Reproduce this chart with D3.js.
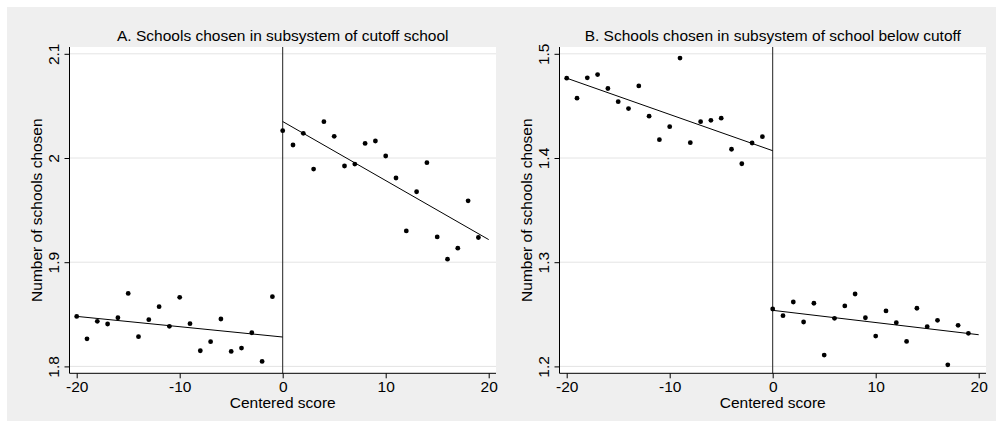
<!DOCTYPE html>
<html lang="en">
<head>
    <meta charset="UTF-8">
    <title>Schools chosen around cutoff</title>
    <script src="https://cdnjs.cloudflare.com/ajax/libs/d3/7.8.5/d3.min.js"></script>
    <style>
        body {
            margin: 0;
            background: #ffffff;
        }
        svg text {
            font-family: "Liberation Sans", Arial, sans-serif;
            fill: #000;
        }
    </style>
</head>
<body>
    <svg id="chart" width="997" height="430"></svg>

    <script>
        // Centered score bins (x values)
        const scores = [-20, -19, -18, -17, -16, -15, -14, -13, -12, -11,
                        -10, -9, -8, -7, -6, -5, -4, -3, -2, -1,
                        0, 1, 2, 3, 4, 5, 6, 7, 8, 9,
                        10, 11, 12, 13, 14, 15, 16, 17, 18, 19];

        // Panel A: schools chosen in subsystem of cutoff school
        const valuesA = [1.848, 1.8265, 1.8433, 1.8407, 1.8467, 1.870, 1.8285, 1.8448, 1.8573, 1.8385,
                         1.8663, 1.841, 1.815, 1.8237, 1.8455, 1.8144, 1.8176, 1.8323, 1.8048, 1.8669,
                         2.0262, 2.0125, 2.0237, 1.9894, 2.0349, 2.0208, 1.9923, 1.9942, 2.014, 2.0163,
                         2.0019, 1.9808, 1.930, 1.9676, 1.9955, 1.9243, 1.9029, 1.9135, 1.9589, 1.9237];

        // Panel B: schools chosen in subsystem of school below cutoff
        const valuesB = [1.4766, 1.4574, 1.4769, 1.4801, 1.4667, 1.4541, 1.4474, 1.4692, 1.4401, 1.4176,
                         1.4301, 1.4959, 1.4147, 1.4349, 1.4362, 1.4382, 1.4084, 1.3945, 1.4144, 1.4205,
                         1.2551, 1.2487, 1.2618, 1.2426, 1.2606, 1.2109, 1.2461, 1.258, 1.2695, 1.2467,
                         1.2291, 1.2532, 1.2419, 1.224, 1.2558, 1.2381, 1.2442, 1.2015, 1.2394, 1.2317];

        // Linear fits on each side of the cutoff (endpoints)
        const fitA = [
            [{x: -20, y: 1.848}, {x: 0, y: 1.8282}],
            [{x: 0, y: 2.035}, {x: 20, y: 1.9217}]
        ];
        const fitB = [
            [{x: -20, y: 1.4766}, {x: 0, y: 1.407}],
            [{x: 0, y: 1.2538}, {x: 20, y: 1.2304}]
        ];

        const xTicks = [-20, -10, 0, 10, 20];
        const yTicksA = [1.8, 1.9, 2, 2.1];
        const yTicksB = [1.2, 1.3, 1.4, 1.5];

        const titles = [
            "A. Schools chosen in subsystem of cutoff school",
            "B. Schools chosen in subsystem of school below cutoff"
        ];
        const xTitle = "Centered score";
        const yTitle = "Number of schools chosen";

        const svg = d3.select("#chart");
        const fontSize = 15.5;

        // Graph region background
        svg.append("rect")
            .attr("x", 7).attr("y", 7)
            .attr("width", 989).attr("height", 414)
            .attr("fill", "#efefef");

        function drawPanel(left, right, values, fits, yTicks, title) {
            const top = 47, bottom = 373.3;
            const g = svg.append("g");

            const x = d3.scaleLinear().domain([-20, 20]).range([left + 7.2, right - 7.3]);
            const y = d3.scaleLinear()
                .domain([yTicks[0], yTicks[yTicks.length - 1]])
                .range([366.4, 53.8]);

            // Plot region
            g.append("rect")
                .attr("x", left).attr("y", top)
                .attr("width", right - left).attr("height", bottom - top)
                .attr("fill", "#ffffff");

            // Gridlines
            g.selectAll(".grid")
                .data(yTicks)
                .enter()
                .append("line")
                .attr("x1", left).attr("x2", right)
                .attr("y1", d => y(d)).attr("y2", d => y(d))
                .attr("stroke", "#e4e4e4")
                .attr("stroke-width", 1);

            // Cutoff line
            g.append("line")
                .attr("x1", x(0)).attr("x2", x(0))
                .attr("y1", top).attr("y2", bottom)
                .attr("stroke", "#222")
                .attr("stroke-width", 1);

            // Fitted lines
            const line = d3.line().x(d => x(d.x)).y(d => y(d.y));
            g.selectAll(".fit")
                .data(fits)
                .enter()
                .append("path")
                .attr("d", line)
                .attr("fill", "none")
                .attr("stroke", "#000")
                .attr("stroke-width", 1);

            // Bin means
            g.selectAll(".dot")
                .data(values)
                .enter()
                .append("circle")
                .attr("cx", (d, i) => x(scores[i]))
                .attr("cy", d => y(d))
                .attr("r", 2.4)
                .attr("fill", "#000");

            // Axes
            const xAxis = g.append("g")
                .attr("transform", `translate(0,${bottom})`)
                .call(d3.axisBottom(x).tickValues(xTicks).tickSize(5).tickSizeOuter(0)
                    .tickFormat(d => String(d)));
            xAxis.select(".domain").remove();
            xAxis.selectAll("text").attr("font-size", fontSize).style("font-family", null);

            const yAxis = g.append("g")
                .attr("transform", `translate(${left},0)`)
                .call(d3.axisLeft(y).tickValues(yTicks).tickSize(5).tickSizeOuter(0)
                    .tickFormat(d => String(d)));
            yAxis.select(".domain").remove();
            yAxis.selectAll("text")
                .attr("x", null).attr("dy", null)
                .attr("text-anchor", "middle")
                .attr("transform", "translate(-11,0) rotate(-90)")
                .attr("font-size", fontSize);

            // Axis lines
            g.append("line")
                .attr("x1", left).attr("x2", left)
                .attr("y1", top).attr("y2", bottom)
                .attr("stroke", "#000");
            g.append("line")
                .attr("x1", left).attr("x2", right)
                .attr("y1", bottom).attr("y2", bottom)
                .attr("stroke", "#000");

            // Titles
            g.append("text")
                .attr("x", (left + right) / 2).attr("y", 40.7)
                .attr("text-anchor", "middle")
                .attr("font-size", fontSize)
                .text(title);
            g.append("text")
                .attr("x", (left + right) / 2).attr("y", 408.3)
                .attr("text-anchor", "middle")
                .attr("font-size", fontSize)
                .text(xTitle);
            g.append("text")
                .attr("transform", `translate(${left - 27.8},${(top + bottom) / 2}) rotate(-90)`)
                .attr("text-anchor", "middle")
                .attr("font-size", fontSize)
                .text(yTitle);
        }

        drawPanel(69.5, 496, valuesA, fitA, yTicksA, titles[0]);
        drawPanel(559.5, 986, valuesB, fitB, yTicksB, titles[1]);
    </script>
</body>
</html>
